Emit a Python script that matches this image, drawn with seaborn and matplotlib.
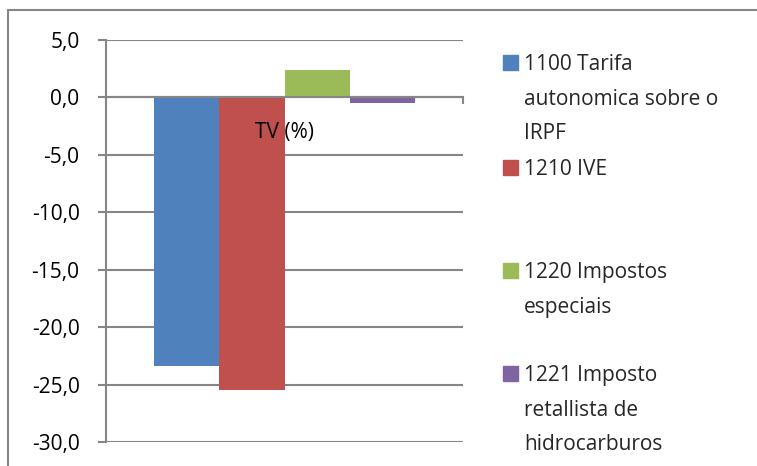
import numpy as np
import pandas as pd
import seaborn as sns
import matplotlib.pyplot as plt
from matplotlib.patches import Rectangle
from matplotlib.lines import Line2D
from matplotlib.ticker import FuncFormatter

# data
category = ['TV (%)']
series = ['1100 Tarifa\nautonomica sobre o\nIRPF',
          '1210 IVE',
          '1220 Impostos\nespeciais',
          '1221 Imposto\nretallista de\nhidrocarburos']
values = [-23.4, -25.5, 2.4, -0.5]
colors = ['#4F81BD', '#C0504D', '#9BBB59', '#8064A2']
yticks = [5, 0, -5, -10, -15, -20, -25, -30]

df = pd.DataFrame({'cat': category * len(series), 'serie': series, 'val': values})

sns.set_style('white')
plt.rcParams['font.family'] = ['Open Sans', 'DejaVu Sans']
grid_col = '#868686'
fs = 15

fig = plt.figure(figsize=(7.57, 4.66), dpi=100)
ax = fig.add_axes([106 / 757, 1 - 442 / 466, 357 / 757, 402 / 466])

sns.barplot(data=df, x='cat', y='val', hue='serie', palette=colors,
            width=0.73, gap=0, saturation=1, linewidth=0, legend=False, ax=ax)

ax.set_ylim(-30, 5)
ax.set_xlim(-0.5, 0.5)
ax.set_yticks(yticks)
ax.yaxis.set_major_formatter(FuncFormatter(lambda v, p: f'{v:.1f}'.replace('.', ',')))
ax.grid(axis='y', color=grid_col, linewidth=1.5)
ax.set_axisbelow(True)
ax.xaxis.set_zorder(5)  # category label sits on top of the bars, like Excel
ax.set_xlabel('')
ax.set_ylabel('')

for s in ['top', 'right']:
    ax.spines[s].set_visible(False)
ax.spines['left'].set_color(grid_col)
ax.spines['left'].set_linewidth(1.5)
ax.spines['bottom'].set_color(grid_col)
ax.spines['bottom'].set_linewidth(1.5)
ax.spines['bottom'].set_position(('data', 0))
ax.spines['bottom'].set_zorder(3)

ax.tick_params(axis='y', left=True, length=6, width=1.5, color=grid_col,
               labelsize=fs, pad=13, labelcolor='black')
ax.tick_params(axis='x', which='major', length=0, labelsize=fs, pad=18, labelcolor='black')
ax.set_xticks([-0.5, 0.5], minor=True)
ax.tick_params(axis='x', which='minor', bottom=True, length=5, width=1.5, color=grid_col)

# legend drawn Excel-style: square aligned with the first text line
leg_y = [62, 167, 270, 373]
for lab, col, yy in zip(series, colors, leg_y):
    fig.patches.append(Rectangle((503 / 757, 1 - (yy + 7.5) / 466), 15 / 757, 15 / 466,
                                 transform=fig.transFigure, color=col))
    fig.text(524 / 757, 1 - (yy - 8) / 466, lab, fontsize=fs, va='top', ha='left',
             linespacing=1.85)

# chart frame
fig.lines.append(Line2D([8 / 757, 8 / 757], [0, 1 - 10 / 466], transform=fig.transFigure,
                        color=grid_col, linewidth=1.5))
fig.lines.append(Line2D([8 / 757, 1], [1 - 10 / 466, 1 - 10 / 466], transform=fig.transFigure,
                        color=grid_col, linewidth=1.5))

fig.savefig('out.png', dpi=100)
